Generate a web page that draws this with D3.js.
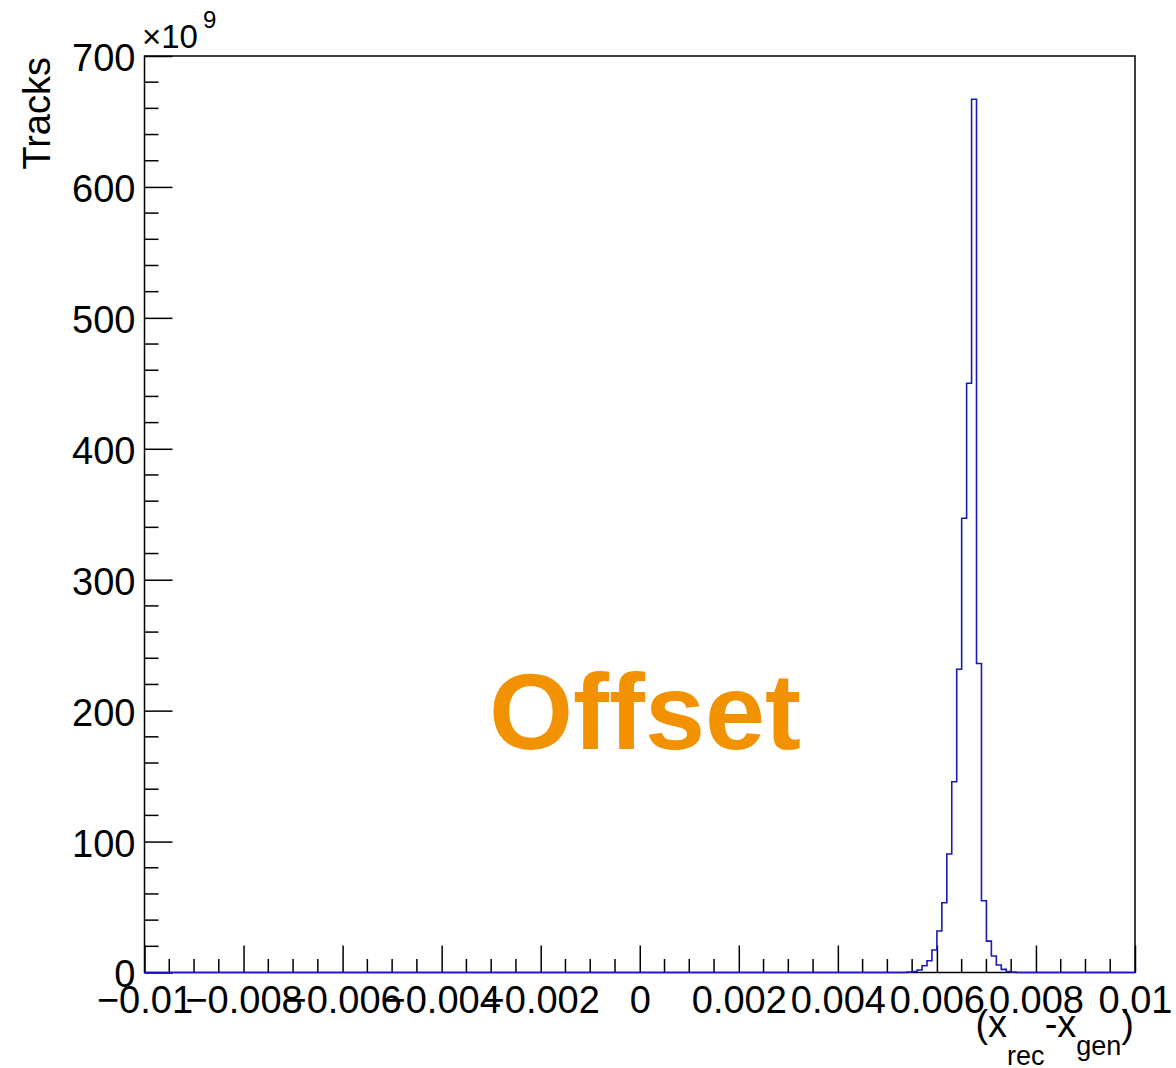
<!DOCTYPE html>
<html>
<head>
<meta charset="utf-8">
<script src="https://cdn.jsdelivr.net/npm/d3@7"></script>
<style>
  html, body { margin: 0; padding: 0; background: #fff; }
  svg { display: block; }
  text { font-family: "Liberation Sans", Arial, Helvetica, sans-serif; }
</style>
</head>
<body>
<svg id="chart" width="1176" height="1068"></svg>
<script>
// ---- data (counts in units of 1e9 tracks) ----
const xRange = [-0.01, 0.01];
const yRange = [0, 700];
const binWidth = 0.0001;
const binLow = [0.0054, 0.0055, 0.0056, 0.0057, 0.0058, 0.0059, 0.0060, 0.0061, 0.0062, 0.0063, 0.0064,
                0.0065, 0.0066, 0.0067, 0.0068, 0.0069, 0.0070, 0.0071, 0.0072, 0.0073, 0.0074, 0.0075];
const counts = [0.3, 0.8, 1.9, 5.2, 9.0, 17.2, 31.7, 53.3, 90.5, 145.7, 231.6,
                347, 450, 667, 236, 54.8, 24.0, 12.6, 5.7, 2.4, 0.8, 0.3];
const xTickValues = [-0.01, -0.008, -0.006, -0.004, -0.002, 0, 0.002, 0.004, 0.006, 0.008, 0.01];
const xTickLabels = ["\u22120.01", "\u22120.008", "\u22120.006", "\u22120.004", "\u22120.002", "0", "0.002", "0.004", "0.006", "0.008", "0.01"];
const yTickValues = [0, 100, 200, 300, 400, 500, 600, 700];
const yTickLabels = ["0", "100", "200", "300", "400", "500", "600", "700"];
const xMinorStep = 0.0005;
const yMinorStep = 20;

// ---- layout ----
const L = 144.5, R = 1135, T = 56, B = 972.5;
const svg = d3.select("#chart");
const x = d3.scaleLinear().domain(xRange).range([L, R]);
const y = d3.scaleLinear().domain(yRange).range([B, T]);

// histogram outline (step path, no inner bin edges)
const pts = [[xRange[0], 0], [binLow[0], 0]];
binLow.forEach((lo, i) => {
  pts.push([lo, counts[i]]);
  pts.push([lo + binWidth, counts[i]]);
});
pts.push([binLow[binLow.length - 1] + binWidth, 0]);
pts.push([xRange[1], 0]);
const line = d3.line().x(d => x(d[0])).y(d => y(d[1]));

// frame
svg.append("rect")
  .attr("x", L).attr("y", T).attr("width", R - L).attr("height", B - T)
  .attr("fill", "none").attr("stroke", "#000").attr("stroke-width", 1.5);

// x axis ticks
const xMinor = d3.range(0, 41).map(i => xRange[0] + i * xMinorStep)
  .filter(v => !xTickValues.some(t => Math.abs(t - v) < 1e-9));
const gx = svg.append("g").attr("transform", `translate(0,${B})`);
gx.call(d3.axisBottom(x).tickValues(xTickValues).tickSize(-27).tickFormat((d, i) => xTickLabels[i]).tickPadding(0))
  .call(g => g.select(".domain").remove());
gx.selectAll(".tick line").attr("stroke", "#000").attr("stroke-width", 1.5);
gx.selectAll(".tick text").attr("font-size", 38).attr("fill", "#000")
  .attr("dy", null).attr("y", 40)
  .style("font-family", '"Liberation Sans", Arial, sans-serif');
gx.selectAll(".minor").data(xMinor).enter().append("line")
  .attr("x1", d => x(d)).attr("x2", d => x(d)).attr("y1", 0).attr("y2", -13.5)
  .attr("stroke", "#000").attr("stroke-width", 1.5);

// y axis ticks
const yMinor = d3.range(0, 36).map(i => yRange[0] + i * yMinorStep)
  .filter(v => !yTickValues.some(t => Math.abs(t - v) < 1e-9));
const gy = svg.append("g").attr("transform", `translate(${L},0)`);
gy.call(d3.axisLeft(y).tickValues(yTickValues).tickSize(-28).tickFormat((d, i) => yTickLabels[i]).tickPadding(0))
  .call(g => g.select(".domain").remove());
gy.selectAll(".tick line").attr("stroke", "#000").attr("stroke-width", 1.5);
gy.selectAll(".tick text").attr("font-size", 38).attr("fill", "#000")
  .attr("x", -9).attr("dy", "0.38em")
  .style("font-family", '"Liberation Sans", Arial, sans-serif');
gy.selectAll(".minor").data(yMinor).enter().append("line")
  .attr("y1", d => y(d)).attr("y2", d => y(d)).attr("x1", 0).attr("x2", 14)
  .attr("stroke", "#000").attr("stroke-width", 1.5);

// histogram
svg.append("path").attr("d", line(pts))
  .attr("fill", "none").attr("stroke", "#1a1ab4").attr("stroke-width", 1.6);

// exponent
const ex = svg.append("text").attr("x", 142).attr("y", 48).attr("font-size", 33).attr("fill", "#000");
ex.append("tspan").text("\u00d710");
ex.append("tspan").attr("dy", -20).attr("dx", 5).attr("font-size", 24).text("9");

// y title
svg.append("text")
  .attr("transform", "translate(50,57) rotate(-90)")
  .attr("text-anchor", "end").attr("font-size", 38).attr("fill", "#000")
  .text("Tracks");

// x title
const xt = svg.append("text").attr("x", 1134).attr("y", 1037)
  .attr("text-anchor", "end").attr("font-size", 38).attr("fill", "#000");
xt.append("tspan").text("(x");
xt.append("tspan").attr("dy", 28).attr("font-size", 27).text("rec");
xt.append("tspan").attr("dy", -28).text("-x");
xt.append("tspan").attr("dy", 18).attr("font-size", 27).text("gen");
xt.append("tspan").attr("dy", -18).text(")");

// annotation
svg.append("text").attr("x", 489).attr("y", 749)
  .attr("font-size", 108).attr("font-weight", "bold").attr("fill", "#f39200")
  .text("Offset");
</script>
</body>
</html>
